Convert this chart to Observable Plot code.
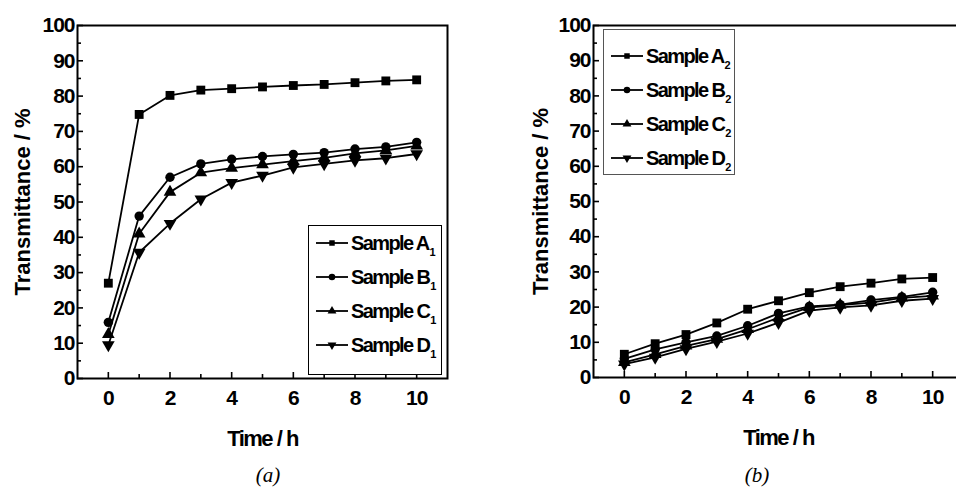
<!DOCTYPE html>
<html><head><meta charset="utf-8">
<script src="https://cdn.jsdelivr.net/npm/d3@7"></script>
<script src="https://cdn.jsdelivr.net/npm/@observablehq/plot@0.6"></script>
<style>
html,body{margin:0;padding:0;background:#fff;}
#wrap{position:relative;width:956px;height:488px;overflow:hidden;background:#fff;}
.panel{position:absolute;top:0;}
.legend{position:absolute;border:1px solid #000;background:#fff;box-sizing:border-box;font-family:"Liberation Sans",Arial,sans-serif;font-weight:bold;font-size:20px;letter-spacing:-1.6px;color:#000;white-space:nowrap;}
.legend .row{display:flex;align-items:center;height:34px;white-space:nowrap;}
.legend svg{display:block;margin-left:6px;margin-right:2px;flex:none;}
.legend span{white-space:nowrap;}
.legend sub{font-size:11px;vertical-align:-6px;letter-spacing:0;line-height:0;margin-left:1px;}
.caption{position:absolute;width:60px;text-align:center;font-family:"Liberation Serif","Times New Roman",serif;font-style:italic;font-size:21px;line-height:24px;}
</style>
</head><body><div id="wrap"></div>
<script>
// ---- data ----
const hours = [0, 1, 2, 3, 4, 5, 6, 7, 8, 9, 10];
const sampleLetters = ["A", "B", "C", "D"];
const subscriptA = "1";
const subscriptB = "2";

const seriesA1 = [27.0, 74.8, 80.2, 81.7, 82.1, 82.6, 83.0, 83.3, 83.8, 84.3, 84.6];
const seriesB1 = [15.9, 46.0, 57.0, 60.8, 62.1, 62.9, 63.5, 64.0, 65.0, 65.6, 66.9];
const seriesC1 = [12.5, 41.0, 52.8, 58.3, 59.6, 60.6, 61.6, 62.5, 63.8, 64.6, 65.9];
const seriesD1 = [9.5, 35.7, 43.9, 50.8, 55.5, 57.5, 59.8, 60.8, 61.8, 62.4, 63.6];

const seriesA2 = [6.6, 9.6, 12.2, 15.5, 19.4, 21.8, 24.1, 25.8, 26.8, 28.0, 28.4];
const seriesB2 = [5.3, 8.0, 10.0, 11.8, 14.7, 18.2, 20.2, 20.7, 22.0, 22.9, 24.2];
const seriesC2 = [4.3, 6.6, 9.0, 10.9, 13.7, 17.0, 19.9, 20.6, 21.3, 22.6, 23.2];
const seriesD2 = [3.8, 5.7, 8.1, 10.2, 12.5, 15.6, 19.0, 19.9, 20.5, 21.8, 22.4];

const xMajorTicks = [0, 2, 4, 6, 8, 10];
const xMinorTicks = [1, 3, 5, 7, 9];
const yMajorTicks = [0, 10, 20, 30, 40, 50, 60, 70, 80, 90, 100];
const yMinorTicks = [5, 15, 25, 35, 45, 55, 65, 75, 85, 95];
const xLabel = "Time / h";
const yLabel = "Transmittance / %";
const captions = ["(a)", "(b)"];

// ---- symbols ----
const triangleDown = {
  draw(context, size) {
    const y = -Math.sqrt(size / (Math.sqrt(3) * 3));
    context.moveTo(0, -2 * y);
    context.lineTo(Math.sqrt(3) * y, y);
    context.lineTo(-Math.sqrt(3) * y, y);
    context.closePath();
  }
};
const symbols = [d3.symbolSquare, d3.symbolCircle, d3.symbolTriangle, triangleDown];
const dotR = [5, 4.7, 4.7, 4.7];

function panel(series, cfg) {
  const rows = series.flatMap((vals, i) => hours.map((h, j) => ({t: h, v: vals[j], s: i})));
  const svg = Plot.plot({
    width: cfg.width, height: 450,
    marginLeft: cfg.marginLeft, marginRight: cfg.marginRight,
    marginTop: cfg.marginTop, marginBottom: cfg.marginBottom,
    x: {domain: [-1, 11]},
    y: {domain: [0, 100]},
    style: {fontFamily: "'Liberation Sans', Arial, sans-serif", fontWeight: "bold", fontSize: "21px",
            letterSpacing: "-1px", color: "#000", background: "#fff", maxWidth: "none", overflow: "visible"},
    marks: [
      Plot.frame({stroke: "#000", strokeWidth: 2}),
      Plot.axisY({ticks: yMajorTicks, tickSize: -6, tickPadding: 9, strokeWidth: 1.6, tickFormat: d3.format("d"), label: null}),
      Plot.axisY({ticks: yMinorTicks, tickSize: -4, strokeWidth: 1.6, tickFormat: () => "", label: null}),
      Plot.axisX({ticks: xMajorTicks, tickSize: -6, tickPadding: 18, strokeWidth: 1.6, tickFormat: d3.format("d"), label: null}),
      Plot.axisX({ticks: xMinorTicks, tickSize: -4, strokeWidth: 1.6, tickFormat: () => "", label: null}),
      Plot.line(rows, {x: "t", y: "v", z: "s", stroke: "#000", strokeWidth: 1.8}),
      ...series.map((_, i) => Plot.dot(rows.filter(d => d.s === i), {x: "t", y: "v", symbol: symbols[i], r: dotR[i], fill: "#000"})),
      Plot.text([yLabel], {text: d => d, frameAnchor: "left", textAnchor: "middle", lineAnchor: "middle", dx: cfg.yLabelDx, rotate: -90, fontSize: 22}),
      Plot.text([xLabel], {text: d => d, frameAnchor: "bottom", textAnchor: "middle", lineAnchor: "middle", dy: 60, fontSize: 22})
    ]
  });
  d3.select(svg).selectAll("text").filter(function() { return this.textContent === yLabel; })
    .style("letter-spacing", "0px");
  d3.select(svg).selectAll("text").filter(function() { return this.textContent === xLabel; })
    .style("letter-spacing", "-1.5px");
  return svg;
}

function legend(sub, cfg) {
  const div = document.createElement("div");
  div.className = "legend";
  Object.assign(div.style, {left: cfg.left + "px", top: cfg.top + "px", width: cfg.width + "px", height: cfg.height + "px", paddingTop: cfg.padTop + "px", borderColor: cfg.border});
  sampleLetters.forEach((letter, i) => {
    const row = document.createElement("div");
    row.className = "row";
    const sw = d3.create("svg").attr("width", 34).attr("height", 20);
    sw.append("line").attr("x1", 1).attr("x2", 33).attr("y1", 10).attr("y2", 10).attr("stroke", "#000").attr("stroke-width", 1.8);
    sw.append("path").attr("transform", "translate(17,10)").attr("d", d3.symbol(symbols[i], i === 0 ? 30 : 34)()).attr("fill", "#000");
    row.appendChild(sw.node());
    const span = document.createElement("span");
    span.innerHTML = "Sample " + letter + "<sub>" + sub + "</sub>";
    row.appendChild(span);
    div.appendChild(row);
  });
  return div;
}

const wrap = document.getElementById("wrap");

const left = document.createElement("div");
left.className = "panel"; left.style.left = "0px"; left.style.width = "478px";
left.appendChild(panel([seriesA1, seriesB1, seriesC1, seriesD1], {width: 478, marginLeft: 77, marginRight: 31, marginTop: 25, marginBottom: 72, yLabelDx: -55}));
wrap.appendChild(left);

const right = document.createElement("div");
right.className = "panel"; right.style.left = "478px"; right.style.width = "490px";
right.appendChild(panel([seriesA2, seriesB2, seriesC2, seriesD2], {width: 490, marginLeft: 115, marginRight: 5, marginTop: 25, marginBottom: 73, yLabelDx: -53}));
wrap.appendChild(right);

wrap.appendChild(legend(subscriptA, {left: 308, top: 225, width: 134, height: 150, padTop: 0, border: "#000"}));
wrap.appendChild(legend(subscriptB, {left: 603, top: 29, width: 132, height: 146, padTop: 9, border: "#555"}));

[[captions[0], 268], [captions[1], 757]].forEach(([txt, cx]) => {
  const c = document.createElement("div");
  c.className = "caption";
  c.textContent = txt;
  c.style.left = (cx - 30) + "px";
  c.style.top = "463px";
  wrap.appendChild(c);
});
</script>
</body></html>
